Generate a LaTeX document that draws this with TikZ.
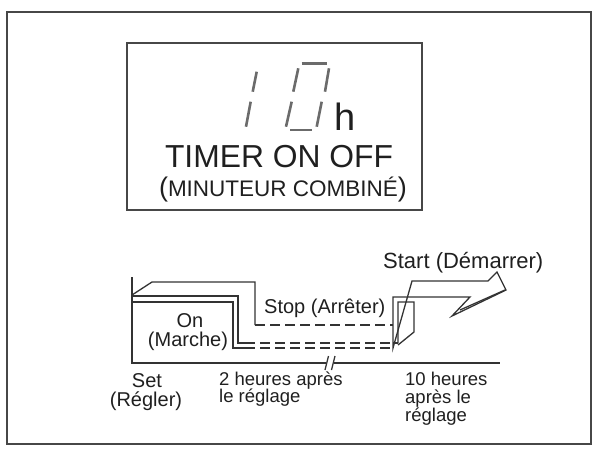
\documentclass[tikz,border=0pt]{standalone}
\usepackage{fontspec}
\setmainfont{Liberation Sans}
\begin{document}
\begin{tikzpicture}[x=1pt,y=-1pt,
  frame/.style={draw=black!72, line width=1.7pt},
  ln/.style={draw=black!80, line width=1.3pt, line join=miter},
  dsh/.style={ln, dash pattern=on 10pt off 5pt},
  seg/.style={draw=black!58, line width=2.6pt},
  lbl/.style={font=\fontsize{20}{24}\selectfont, text=black!88, inner sep=0pt},
  sm/.style={font=\fontsize{18.5}{22}\selectfont, text=black!88, inner sep=0pt}]
\useasboundingbox (0,0) rectangle (595,448);
% frames
\draw[frame] (7,12) rectangle (591,444);
\draw[frame] (127,43) rectangle (422,210);
% digits
\draw[seg] (256.7,71.7) -- (252.7,91.7);
\draw[seg] (250.7,101.7) -- (246,126.7);
\draw[seg] (301.7,63.3) -- (326.7,63.3);
\draw[seg] (298.3,68.3) -- (293.3,91.7);
\draw[seg] (329,68.3) -- (325,91.7);
\draw[seg] (291.7,101.7) -- (286,126.7);
\draw[seg] (321.7,101.7) -- (316.7,126.7);
\draw[seg] (290,130) -- (311.7,130);
\node[anchor=base west, inner sep=0pt, font=\fontsize{38}{40}\selectfont, text=black!88] (h) at (334,130) {h};
\node[anchor=base, inner sep=0pt, font=\fontsize{31.8}{36}\selectfont, text=black!88] (timer) at (279,167) {TIMER ON OFF};
\node[anchor=base, inner sep=0pt, text=black!88] (minut) at (283,196) {\fontsize{27}{30}\selectfont(\fontsize{22.5}{26}\selectfont MINUTEUR COMBINÉ\fontsize{27}{30}\selectfont)};
% axes
\coordinate (ytop) at (132,277);
\coordinate (orig) at (132,363);
\coordinate (brk1) at (326,363);
\coordinate (brk2) at (334,363);
\coordinate (xend) at (500,363);
\draw[ln] (ytop) -- (orig) -- (brk1);
\draw[ln] (brk2) -- (xend);
\draw[ln] (325,370) -- (328.5,356);
\draw[ln] (331.5,370) -- (335,356);
% band
\draw[ln] (132,295) -- (152,282) -- (255,282) -- (255,325);
\draw[dsh] (255,325) -- (393,325);
\draw[ln] (132,296) -- (238,296) -- (238,343) -- (245,343);
\draw[ln] (132,302) -- (233,302) -- (233,348) -- (245,348);
\draw[dsh] (245,343) -- (398,343);
\draw[dsh] (245,348) -- (393,348);
% riser and arrow
\draw[ln] (393,348) -- (393,297) -- (470,297) -- (452,316) -- (506,290) -- (497,272) -- (488,281) -- (412,281) -- cycle;
\draw[ln] (460,310) -- (505,290);
\draw[ln] (398,343) -- (398,302) -- (414,302) -- (414,332) -- (398,345);
% labels
\node[lbl, anchor=base] (on) at (190,327) {On};
\node[lbl, anchor=base] (marche) at (188,346) {(Marche)};
\node[lbl, anchor=base west] (stop) at (264,313) {Stop (Arrêter)};
\node[lbl, font=\fontsize{22}{26}\selectfont, anchor=base west] (start) at (383,268) {Start (Démarrer)};
\node[lbl, anchor=base] (set) at (147,387) {Set};
\node[lbl, anchor=base] (regler) at (146,406) {(Régler)};
\node[sm, anchor=base west] (deux1) at (219,385) {2 heures après};
\node[sm, anchor=base west] (deux2) at (219,402) {le réglage};
\node[sm, anchor=base west] (dix1) at (405,385) {10 heures};
\node[sm, anchor=base west] (dix2) at (405,403) {après le};
\node[sm, anchor=base west] (dix3) at (405,421) {réglage};
\end{tikzpicture}
\end{document}
